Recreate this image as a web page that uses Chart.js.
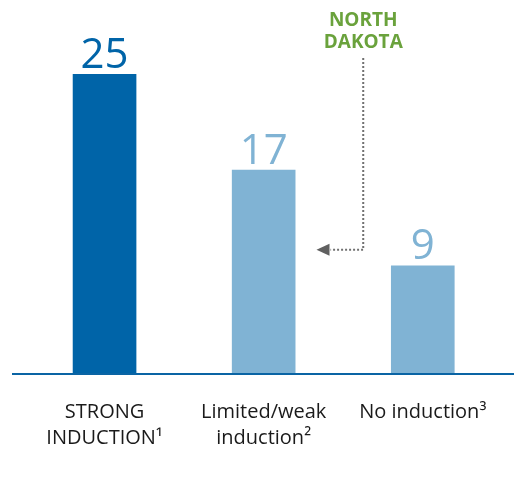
<!DOCTYPE html>
<html><head><meta charset="utf-8">
<script src="https://cdn.jsdelivr.net/npm/chart.js@4.4.1/dist/chart.umd.min.js"></script>
<style>html,body{margin:0;padding:0;background:#fff;}#wrap{width:514px;height:485px;}</style>
</head><body><div id="wrap"><canvas id="c" width="514" height="485"></canvas></div>
<script>
const categories = [["STRONG", "INDUCTION¹"], ["Limited/weak", "induction²"], ["No induction³"]];
const values = [25, 17, 9];
const barColors = ["#0064a8", "#80b3d4", "#80b3d4"];
const annotationText = ["NORTH", "DAKOTA"];
const annotationLevel = 10.3;

const overlay = {
  id: 'overlay',
  afterDatasetsDraw(chart) {
    const ctx = chart.ctx, meta = chart.getDatasetMeta(0), ca = chart.chartArea;
    const ys = chart.scales.y;
    ctx.save();
    ctx.strokeStyle = '#0a64a4'; ctx.lineWidth = 2;
    ctx.beginPath(); ctx.moveTo(ca.left - 13, ca.bottom + 1); ctx.lineTo(chart.width, ca.bottom + 1); ctx.stroke();
    ctx.font = '400 42px "Open Sans", sans-serif';
    ctx.textAlign = 'center'; ctx.textBaseline = 'alphabetic';
    meta.data.forEach((bar, i) => {
      ctx.fillStyle = barColors[i];
      ctx.fillText(String(values[i]), bar.x, bar.y - 6);
    });
    const b2 = meta.data[1], b3 = meta.data[2];
    const ax = (b2.x + b3.x) / 2 + 20;
    const ay = ys.getPixelForValue(annotationLevel);
    ctx.fillStyle = '#6aa23c';
    ctx.font = 'bold 19px "Open Sans", sans-serif';
    ctx.fillText(annotationText[0], ax, 26);
    ctx.fillText(annotationText[1], ax, 48);
    ctx.strokeStyle = '#707070'; ctx.lineWidth = 2; ctx.setLineDash([2, 2]);
    const tipX = b2.x + b2.width / 2 + 21;
    ctx.beginPath(); ctx.moveTo(ax, 58); ctx.lineTo(ax, ay); ctx.lineTo(tipX + 14, ay); ctx.stroke();
    ctx.setLineDash([]);
    ctx.fillStyle = '#606060';
    ctx.beginPath(); ctx.moveTo(tipX, ay); ctx.lineTo(tipX + 13, ay - 6); ctx.lineTo(tipX + 13, ay + 6); ctx.closePath(); ctx.fill();
    ctx.restore();
  }
};

new Chart(document.getElementById('c'), {
  type: 'bar',
  data: { labels: categories, datasets: [{ data: values, backgroundColor: barColors, barPercentage: 0.4, categoryPercentage: 1.0 }] },
  options: {
    responsive: false, animation: false, devicePixelRatio: 1,
    layout: { padding: { left: 25, right: 10, top: 0, bottom: 8 } },
    plugins: { legend: { display: false }, tooltip: { enabled: false } },
    scales: {
      y: { display: false, min: 0, max: 31.2 },
      x: {
        grid: { display: false, drawTicks: false }, border: { display: false },
        ticks: { color: '#1a1a1a', font: { family: '"Open Sans", sans-serif', size: 20, lineHeight: 1.3 }, padding: 26, maxRotation: 0, autoSkip: false }
      }
    }
  },
  plugins: [overlay]
});
</script></body></html>
